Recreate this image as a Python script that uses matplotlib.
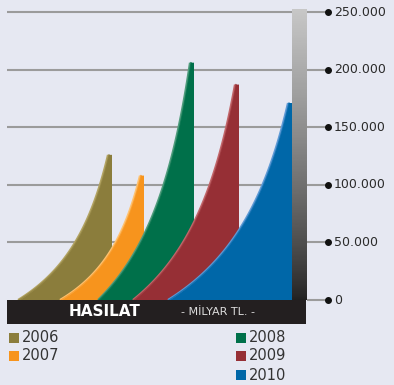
import numpy as np
import matplotlib
matplotlib.use("Agg")
import matplotlib.pyplot as plt
from matplotlib.patches import Polygon, Rectangle

# data
years = ["2006", "2007", "2008", "2009", "2010"]
hasilat = [126000, 108000, 206000, 187000, 171000]
colors = ["#8b7d3c", "#f7941d", "#00704a", "#962f35", "#0067a8"]
edge_colors = ["#b3a463", "#ffc270", "#4f9c7c", "#c2666a", "#5f9ad6"]
tick_values = [0, 50000, 100000, 150000, 200000, 250000]
tick_labels = ["0", "50.000", "100.000", "150.000", "200.000", "250.000"]

# layout (x in pixels of the 394 px wide picture)
fin_start = [18, 60, 98, 133, 168]
fin_right = [112, 144, 194, 239, 292]
fin_top = 4
bend = 0.62                  # how sharply the fin curve rises near its top
px = 250000 / 288.0          # value per vertical pixel
ymin, ymax = -85 * px, 300 * px

fig = plt.figure(figsize=(3.94, 3.85), dpi=100)
fig.patch.set_facecolor("#e6e8f2")
ax = fig.add_axes([0, 0, 1, 1])
ax.set_xlim(0, 394)
ax.set_ylim(ymin, ymax)
ax.axis("off")

# grid lines + tick dots
for v in tick_values:
    if v > 0:
        ax.plot([7, 292], [v, v], color="#9b9b9b", lw=1.5, zorder=1, solid_capstyle="butt")
    ax.plot([307, 328], [v, v], color="#9b9b9b", lw=1.5, zorder=1, solid_capstyle="butt")
    ax.plot(328, v, "o", color="#111111", ms=4, zorder=5)
for v, lab in zip(tick_values, tick_labels):
    ax.text(334, v, lab, fontsize=9, color="#2b2b2b", va="center", ha="left")

# fins, later years in front
for i, (val, c, ec) in enumerate(zip(hasilat, colors, edge_colors)):
    x0, x1 = fin_start[i], fin_right[i] - fin_top
    t = np.linspace(0, 1, 120)
    xs = x0 + (x1 - x0) * t
    ys = val * t * (1 - bend) / (1 - bend * t)
    pts = list(zip(xs, ys)) + [(fin_right[i], val), (fin_right[i], 0)]
    ax.add_patch(Polygon(pts, closed=True, facecolor=c, edgecolor="none", zorder=2 + i))
    ax.plot(xs, ys, color=ec, lw=1.6, zorder=2 + i, solid_capstyle="butt")
    ax.plot(xs + 1.0, ys, color=c, lw=1.0, alpha=0.7, zorder=2 + i)

# gradient bar (vertical axis)
s = np.linspace(1, 0, 256).reshape(-1, 1)
grad = 0.13 + 0.65 * s ** 0.8
ax.imshow(grad, cmap="gray", vmin=0, vmax=1, aspect="auto",
          extent=[292, 307, 0, 291 * px], zorder=8, origin="upper")

# black title bar
ax.add_patch(Rectangle((7, -24 * px), 299, 24 * px, facecolor="#231f20", zorder=9))
ax.text(105, -12 * px, "HASILAT", color="white", fontsize=11, fontweight="bold",
        ha="center", va="center", zorder=10)
ax.text(218, -12 * px, "- MİLYAR TL. -", color="#dddddd", fontsize=8,
        ha="center", va="center", zorder=10)

# legend
leg_pos = [(9, 338), (9, 356), (236, 338), (236, 356), (236, 375)]
for (lx, ly), c, yr in zip(leg_pos, colors, years):
    yv = (300 - ly) * px
    ax.add_patch(Rectangle((lx, yv - 5 * px), 10, 10 * px, facecolor=c, zorder=10))
    ax.text(lx + 13, yv, yr, fontsize=10.5, color="#333333", ha="left", va="center")

fig.savefig("out.png", dpi=100, facecolor=fig.get_facecolor())
